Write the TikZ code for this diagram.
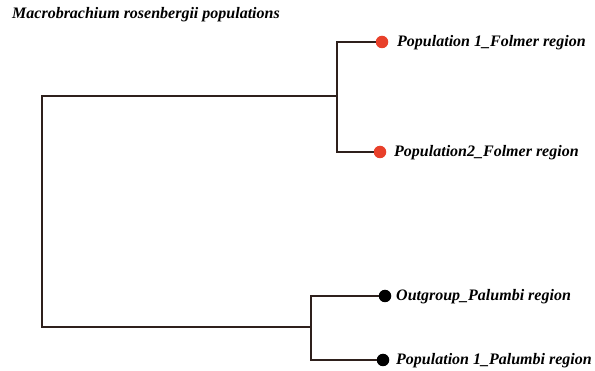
\documentclass[tikz,border=0pt]{standalone}
\usepackage{fontspec}
\setmainfont{Liberation Serif}
\definecolor{branch}{HTML}{2E201C}
\definecolor{redpop}{HTML}{E8402A}
\begin{document}
\begin{tikzpicture}[x=1pt,y=-1pt,
  branchline/.style={draw=branch,line width=1.3pt},
  leafdot/.style={circle,inner sep=0pt,minimum size=12.5pt},
  leaflabel/.style={anchor=west,inner sep=0pt,font=\fontsize{16}{18}\selectfont\bfseries\itshape},
  titletext/.style={anchor=west,inner sep=0pt,font=\fontsize{16}{18}\selectfont\bfseries\itshape}]
\useasboundingbox (0,0) rectangle (595,371);
\node[titletext] (title) at (12,15) {Macrobrachium rosenbergii populations};
% internal nodes
\coordinate (root) at (42,211);
\coordinate (ctop) at (337,96);
\coordinate (cbot) at (311,327);
% leaves
\node[leafdot,fill=redpop] (l1) at (382,42) {};
\node[leafdot,fill=redpop] (l2) at (380,152) {};
\node[leafdot,fill=black] (l3) at (385,296) {};
\node[leafdot,fill=black] (l4) at (383,360) {};
\node[leaflabel] (t1) at (397,43) {Population 1\_Folmer region};
\node[leaflabel] (t2) at (394,153) {Population2\_Folmer region};
\node[leaflabel] (t3) at (396,297) {Outgroup\_Palumbi region};
\node[leaflabel] (t4) at (396,361) {Population 1\_Palumbi region};
% branches
\draw[branchline] (ctop) -| (root) |- (cbot);
\draw[branchline] (l1.west) -| (ctop) |- (l2.west);
\draw[branchline] (l3.west) -| (cbot) |- (l4.west);
\end{tikzpicture}
\end{document}
